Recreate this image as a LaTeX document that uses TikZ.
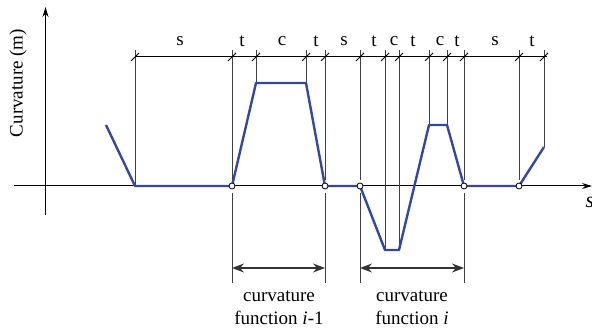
\documentclass[tikz,border=0pt]{standalone}
\usepackage{fontspec}
\setmainfont{Liberation Serif}
\usetikzlibrary{arrows.meta}
\definecolor{curveblue}{RGB}{52,72,160}

\begin{document}
\begin{tikzpicture}[x=0.5pt, y=-0.5pt,
  axis/.style={-{Stealth[length=5pt, width=3pt]}, line width=0.5pt},
  guide/.style={line width=0.5pt, black!75},
  curve/.style={line width=1.2pt, curveblue, line join=round},
  dim/.style={{Stealth[length=6pt, width=4.5pt, inset=2pt]}-{Stealth[length=6pt, width=4.5pt, inset=2pt]}, line width=0.55pt, black!80},
  knot/.style={circle, draw, fill=white, inner sep=0pt, minimum size=3pt, line width=0.4pt},
  seg/.style={font=\fontsize{9.5}{11}\selectfont, inner sep=0pt},
  lbl/.style={font=\fontsize{9.5}{11.5}\selectfont, align=center, inner sep=0pt}
]
\useasboundingbox (0,0) rectangle (592,330);

% axes
\coordinate (xs) at (14,186);
\coordinate (xe) at (592,186);
\coordinate (ys) at (45.5,215);
\coordinate (ye) at (45.5,7);
\draw[axis] (xs) -- (xe);
\draw[axis] (ys) -- (ye);
\node[lbl, rotate=90] (ylab) at (18,83) {Curvature (m)};
\node[lbl, font=\fontsize{11}{12}\selectfont\itshape] (xlab) at (590,202) {s};

% curve points
\coordinate (p0) at (106,125);
\coordinate (p1) at (135,186);
\coordinate (p2) at (232,186);
\coordinate (p3) at (256,83);
\coordinate (p4) at (306,83);
\coordinate (p5) at (325,186);
\coordinate (p6) at (360,186);
\coordinate (p7) at (385,250);
\coordinate (p8) at (399,250);
\coordinate (p9) at (429,125);
\coordinate (p10) at (447,125);
\coordinate (p11) at (464,186);
\coordinate (p12) at (519,186);
\coordinate (p13) at (544,147);

% guides from the dimension line down to the curve
\foreach \x/\yb in {135/186, 256/83, 306/83, 385/250, 399/250, 429/125, 447/125, 544/147}
  \draw[guide] (\x,50) -- (\x,\yb);
\foreach \x in {232, 325, 360, 464, 519}
  \draw[guide] (\x,50) -- (\x,180);
\foreach \x in {232, 325, 360, 464}
  \draw[guide] (\x,193) -- (\x,283);

% dimension line with ticks
\coordinate (da) at (135,57);
\coordinate (db) at (547,57);
\draw[line width=0.5pt] (da) -- (db);
\foreach \x in {135, 232, 256, 306, 325, 360, 385, 399, 429, 447, 464, 519, 544}
  \draw[line width=0.5pt] (\x-4,61) -- (\x+4,53);

% segment labels
\foreach \x/\t [count=\i] in {180/s, 242/t, 282/c, 316/t, 344/s, 374/t, 394/c, 413/t, 440/c, 457/t, 495/s, 532/t}
  \node[seg] (seg\i) at (\x,41) {\t};

\draw[curve] (p0) -- (p1) -- (p2) -- (p3) -- (p4) -- (p5) -- (p6) -- (p7)
  -- (p8) -- (p9) -- (p10) -- (p11) -- (p12) -- (p13);

\foreach \n in {2, 5, 6, 11, 12}
  \node[knot] (k\n) at (p\n) {};

% function spans
\coordinate (fa) at (232,268);
\coordinate (fb) at (325,268);
\coordinate (fc) at (360,268);
\coordinate (fd) at (464,268);
\draw[dim] (fa) -- (fb);
\draw[dim] (fc) -- (fd);
\node[lbl] (fprev) at (279,308) {curvature\\function \textit{i}-1};
\node[lbl] (fcur) at (412,308) {curvature\\function \textit{i}};
\end{tikzpicture}
\end{document}
